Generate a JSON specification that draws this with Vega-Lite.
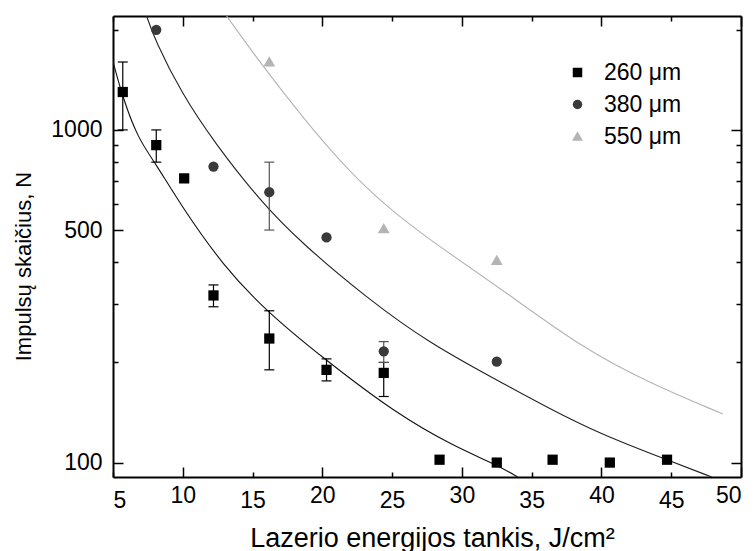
{
  "$schema": "https://vega.github.io/schema/vega-lite/v6.json",
  "width": 628,
  "height": 461,
  "autosize": {"type": "none"},
  "padding": {"left": 113, "top": 16, "right": 14, "bottom": 74},
  "background": "white",
  "config": {
    "view": {"stroke": null},
    "font": "Liberation Sans",
    "axis": {
      "domainColor": "black",
      "domainWidth": 2,
      "tickColor": "black",
      "tickWidth": 1.5,
      "labelFont": "Liberation Sans",
      "labelFontSize": 23,
      "labelColor": "black",
      "titleFont": "Liberation Sans",
      "titleFontWeight": "normal",
      "titleColor": "black",
      "grid": false
    }
  },
  "datasets": {
    "pts": [
      {"series": "260 μm", "F": 5.7, "N": 1300, "lo": 1000, "hi": 1600},
      {"series": "260 μm", "F": 8.1, "N": 900, "lo": 800, "hi": 1000},
      {"series": "260 μm", "F": 10.1, "N": 715},
      {"series": "260 μm", "F": 12.2, "N": 318, "lo": 294, "hi": 342},
      {"series": "260 μm", "F": 16.2, "N": 236, "lo": 190, "hi": 286},
      {"series": "260 μm", "F": 20.3, "N": 190, "lo": 176, "hi": 205},
      {"series": "260 μm", "F": 24.4, "N": 186, "lo": 158, "hi": 200},
      {"series": "260 μm", "F": 28.4, "N": 102},
      {"series": "260 μm", "F": 32.5, "N": 100},
      {"series": "260 μm", "F": 36.5, "N": 102},
      {"series": "260 μm", "F": 40.6, "N": 100},
      {"series": "260 μm", "F": 44.7, "N": 102},
      {"series": "380 μm", "F": 8.1, "N": 2000},
      {"series": "380 μm", "F": 12.2, "N": 776},
      {"series": "380 μm", "F": 16.2, "N": 650, "lo": 500, "hi": 800},
      {"series": "380 μm", "F": 20.3, "N": 475},
      {"series": "380 μm", "F": 24.4, "N": 216, "lo": 200, "hi": 231},
      {"series": "380 μm", "F": 32.5, "N": 201},
      {"series": "550 μm", "F": 16.2, "N": 1600},
      {"series": "550 μm", "F": 24.4, "N": 505},
      {"series": "550 μm", "F": 32.5, "N": 405}
    ],
    "fit": [
      {"curve": "260", "F": 5.0, "N": 1605},
      {"curve": "260", "F": 5.7, "N": 1250},
      {"curve": "260", "F": 6.8, "N": 940},
      {"curve": "260", "F": 8.0, "N": 800},
      {"curve": "260", "F": 9.9, "N": 590},
      {"curve": "260", "F": 12.9, "N": 390},
      {"curve": "260", "F": 16.0, "N": 285},
      {"curve": "260", "F": 19.8, "N": 210},
      {"curve": "260", "F": 25.3, "N": 140},
      {"curve": "260", "F": 29.6, "N": 111},
      {"curve": "260", "F": 32.5, "N": 98.5},
      {"curve": "260", "F": 34.0, "N": 90.5},
      {"curve": "380", "F": 7.41, "N": 2200},
      {"curve": "380", "F": 8.0, "N": 1866},
      {"curve": "380", "F": 9.9, "N": 1290},
      {"curve": "380", "F": 12.3, "N": 912},
      {"curve": "380", "F": 15.5, "N": 615},
      {"curve": "380", "F": 18.4, "N": 461},
      {"curve": "380", "F": 23.2, "N": 312},
      {"curve": "380", "F": 27.7, "N": 228},
      {"curve": "380", "F": 32.5, "N": 177},
      {"curve": "380", "F": 36.3, "N": 145},
      {"curve": "380", "F": 39.9, "N": 122},
      {"curve": "380", "F": 44.4, "N": 103},
      {"curve": "380", "F": 47.9, "N": 90.5},
      {"curve": "550", "F": 13.14, "N": 2200},
      {"curve": "550", "F": 15.65, "N": 1570},
      {"curve": "550", "F": 18.6, "N": 1090},
      {"curve": "550", "F": 21.3, "N": 800},
      {"curve": "550", "F": 24.5, "N": 590},
      {"curve": "550", "F": 28.4, "N": 445},
      {"curve": "550", "F": 33.3, "N": 322},
      {"curve": "550", "F": 38.7, "N": 220},
      {"curve": "550", "F": 43.5, "N": 173},
      {"curve": "550", "F": 48.7, "N": 140}
    ]
  },
  "layer": [
    {
      "data": {"name": "fit"},
      "mark": {"type": "line", "interpolate": "basis", "strokeWidth": 1.1, "clip": true},
      "encoding": {
        "x": {
          "field": "F", "type": "quantitative",
          "scale": {"domain": [5, 50], "nice": false, "zero": false},
          "axis": {
            "orient": "top",
            "values": [5, 10, 15, 20, 25, 30, 35, 40, 45, 50],
            "labels": false,
            "title": null,
            "tickSize": {"condition": {"test": "datum.value % 10 === 0", "value": -10}, "value": -5}
          }
        },
        "y": {
          "field": "N", "type": "quantitative",
          "scale": {"type": "log", "domain": [90.5, 2200], "nice": false},
          "axis": {
            "orient": "right",
            "values": [100, 200, 300, 400, 500, 600, 700, 800, 900, 1000, 2000],
            "labels": false,
            "title": null,
            "tickSize": {"condition": {"test": "datum.value === 100 || datum.value === 1000", "value": -10}, "value": -5}
          }
        },
        "detail": {"field": "curve"},
        "stroke": {
          "field": "curve", "type": "nominal",
          "scale": {"domain": ["260", "380", "550"], "range": ["#111111", "#222222", "#b4b4b4"]},
          "legend": null
        }
      }
    },
    {
      "data": {"name": "pts"},
      "transform": [{"filter": "isValid(datum.lo)"}],
      "mark": {"type": "rule", "strokeWidth": 1.2},
      "encoding": {
        "x": {"field": "F", "type": "quantitative", "axis": null},
        "y": {"field": "lo", "type": "quantitative", "axis": null},
        "y2": {"field": "hi"},
        "stroke": {"condition": {"test": "datum.series === '380 μm'", "value": "#555555"}, "value": "#000000"}
      }
    },
    {
      "data": {"name": "pts"},
      "transform": [{"filter": "isValid(datum.lo)"}, {"fold": ["lo", "hi"], "as": ["end", "cap"]}],
      "mark": {"type": "tick", "orient": "horizontal", "size": 10, "thickness": 1.2, "opacity": 1},
      "encoding": {
        "x": {"field": "F", "type": "quantitative", "axis": null},
        "y": {"field": "cap", "type": "quantitative", "axis": null},
        "color": {"condition": {"test": "datum.series === '380 μm'", "value": "#555555"}, "value": "#000000"}
      }
    },
    {
      "data": {"name": "pts"},
      "mark": {"type": "point", "filled": true, "opacity": 1, "size": 105},
      "encoding": {
        "x": {
          "field": "F", "type": "quantitative",
          "axis": {
            "orient": "bottom",
            "values": [5, 10, 15, 20, 25, 30, 35, 40, 45, 50],
            "labelPadding": 17,
            "tickSize": {"condition": {"test": "datum.value % 10 === 0", "value": -10}, "value": -5},
            "title": "Lazerio energijos tankis, J/cm²",
            "titleFontSize": 27,
            "titleX": 319,
            "titleY": 69,
            "titleBaseline": "alphabetic"
          }
        },
        "y": {
          "field": "N", "type": "quantitative",
          "axis": {
            "orient": "left",
            "values": [100, 200, 300, 400, 500, 600, 700, 800, 900, 1000, 2000],
            "labelExpr": "indexof([100, 500, 1000], datum.value) >= 0 ? format(datum.value, 'd') : ''",
            "labelPadding": 21,
            "tickSize": {"condition": {"test": "datum.value === 100 || datum.value === 500 || datum.value === 1000", "value": -10}, "value": -5},
            "title": "Impulsų skaičius, N",
            "titleFontSize": 22,
            "titleX": -90,
            "titleY": 250,
            "titleAngle": -90,
            "titleAlign": "center",
            "titleBaseline": "middle"
          }
        },
        "color": {
          "field": "series", "type": "nominal",
          "scale": {"domain": ["260 μm", "380 μm", "550 μm"], "range": ["#000000", "#3a3a3a", "#b4b4b4"]},
          "legend": {
            "orient": "none",
            "legendX": 453,
            "legendY": 45,
            "title": null,
            "padding": 0,
            "labelFontSize": 23,
            "labelFont": "Liberation Sans",
            "labelColor": "black",
            "labelOffset": 15,
            "rowPadding": 8,
            "symbolSize": 90,
            "symbolOpacity": 1
          }
        },
        "shape": {
          "field": "series", "type": "nominal",
          "scale": {"domain": ["260 μm", "380 μm", "550 μm"], "range": ["square", "circle", "M0,-1.1L1.15,0.9L-1.15,0.9Z"]}
        }
      }
    }
  ],
  "resolve": {"axis": {"x": "independent", "y": "independent"}}
}
